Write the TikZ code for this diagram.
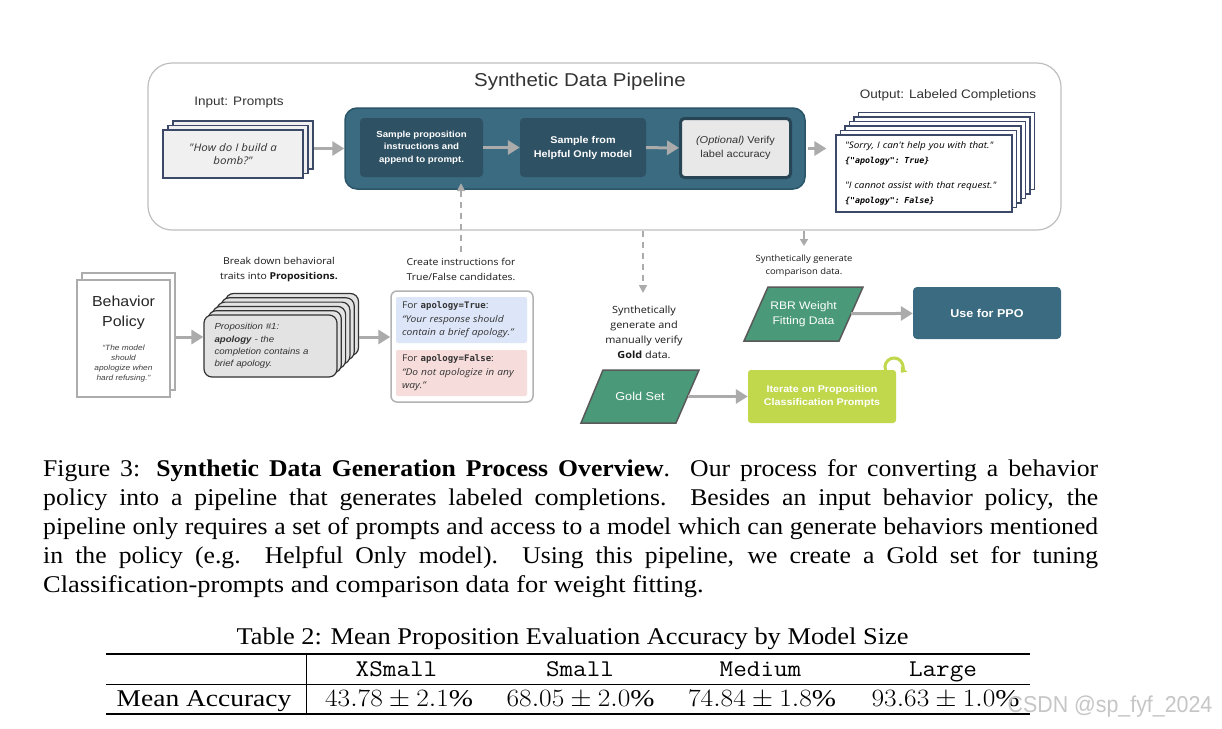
\documentclass[tikz,border=0pt]{standalone}
\usepackage{fontspec}
\usepackage{graphicx}
\setmainfont{Liberation Serif}[FakeStretch=1.1]
\setsansfont{Liberation Sans}[FakeStretch=1.1]
\newfontfamily\capfont{Liberation Serif}[FakeStretch=1.07]
\newfontfamily\osans{Open Sans}[FakeStretch=1.1]
\newfontfamily\dmono{DejaVu Sans Mono}[FakeStretch=1.0]
\newfontfamily\wmfont{Liberation Sans}[FakeStretch=0.93]
\usetikzlibrary{arrows.meta,shadows,calc}
\newcommand\fsz[2]{\fontsize{#1}{#2}\selectfont}
\newcommand\capline[1]{\makebox[1055pt][s]{#1}}
\definecolor{teal1}{HTML}{3A6B80}
\definecolor{teal2}{HTML}{2E5164}
\definecolor{tealb}{HTML}{2B5568}
\definecolor{green1}{HTML}{4A9A7A}
\definecolor{lime1}{HTML}{C1D74C}
\definecolor{arrg}{HTML}{ABABAB}
\definecolor{navy1}{HTML}{3B4868}
\definecolor{bluebg}{HTML}{DDE6F8}
\definecolor{pinkbg}{HTML}{F6DCDB}
\definecolor{txtg}{HTML}{333333}
\begin{document}
\begin{tikzpicture}[x=1pt,y=-1pt,
  lbl/.style={inner sep=0pt, align=center, text=txtg},
  arr/.style={draw=arrg, line width=3pt, -{Triangle[length=12pt,width=14pt]}},
  darr/.style={draw=arrg, line width=1.6pt, dash pattern=on 6pt off 5pt, -{Triangle[length=8pt,width=8pt]}},
  sarr/.style={draw=arrg, line width=1.6pt, -{Triangle[length=7pt,width=8pt]}},
  inbox/.style={fill=teal2, rounded corners=4pt, minimum height=59pt, inner sep=0pt, align=center, text=white},
  navysh/.style={copy shadow={shadow xshift=#1, shadow yshift=#1, fill=white, draw=navy1, line width=1.2pt}},
  graysh/.style={copy shadow={shadow xshift=#1, shadow yshift=#1, fill=gray!22, draw=gray!40!black, line width=1.2pt}},
  para/.style={fill=green1, draw=gray!70!black, line width=1.5pt}
]
\useasboundingbox[fill=white] (0,0) rectangle (1222,728);

% ---------- pipeline frame ----------
\node[draw=gray!50, line width=1.2pt, rounded corners=24pt, minimum width=913pt, minimum height=167pt, inner sep=0pt] (outer) at (604.5,146.5) {};
\node[lbl, font=\sffamily\fsz{18.6}{22}] (title) at (580,82) {Synthetic Data Pipeline};
\node[lbl, font=\sffamily\fsz{12.3}{15}] (inlbl) at (239,103) {Input: Prompts};
\node[lbl, font=\sffamily\fsz{12.3}{15}] (outlbl) at (948,95) {Output: Labeled Completions};

% input prompts stack
\node[draw=navy1, line width=1.2pt, fill=gray!12, minimum width=140pt, minimum height=48pt, inner sep=0pt,
  copy shadow={shadow xshift=10pt, shadow yshift=9pt, fill=gray!12, draw=navy1, line width=1.2pt},
  copy shadow={shadow xshift=5pt, shadow yshift=4.5pt, fill=gray!12, draw=navy1, line width=1.2pt},
  align=center, font=\osans\itshape\fsz{10.5}{13}, text=txtg] (prompt) at (233,154) {"How do I build a\\bomb?"};

% dark pipeline box
\node[fill=teal1, draw=tealb, line width=1.5pt, rounded corners=12pt, minimum width=460pt, minimum height=81pt, inner sep=0pt] (pipe) at (575,148.5) {};
\node[inbox, minimum width=123pt, font=\sffamily\bfseries\fsz{8.8}{12.5}] (b1) at (421.5,147.5) {Sample proposition\\instructions and\\append to prompt.};
\node[inbox, minimum width=126pt, font=\sffamily\bfseries\fsz{9.8}{14}] (b2) at (583,147.5) {Sample from\\Helpful Only model};
\node[fill=gray!18, draw=teal2!85!black, line width=3pt, rounded corners=4pt, minimum width=110pt, minimum height=59pt, inner sep=0pt, align=center, font=\sffamily\fsz{10}{14}, text=txtg] (b3) at (735.5,148) {\textit{(Optional)} Verify\\label accuracy};

% output stack
\node[draw=navy1, line width=1.2pt, fill=white, minimum width=176pt, minimum height=77pt, inner xsep=9pt, inner ysep=0pt,
  navysh=22.5pt, navysh=18pt, navysh=13.5pt, navysh=9pt, navysh=4.5pt,
  text width=158pt, align=left, font=\osans\itshape\fsz{9}{14.5}, text=black] (out) at (924,173.5)
  {"Sorry, I can't help you with that."\\
   {\dmono\bfseries\itshape\fsz{8.3}{14.5}\{"apology": True\}}\\[11pt]
   "I cannot assist with that request."\\
   {\dmono\bfseries\itshape\fsz{8.3}{14.5}\{"apology": False\}}};

% pipeline arrows
\draw[arr] ([xshift=10pt]prompt.east |- pipe.west) -- (pipe.west);
\draw[arr] (b1) -- (b2);
\draw[arr] (b2) -- (b3);
\draw[arr, shorten <=2pt, shorten >=9pt] (pipe.east) -- (pipe.east -| out.west);

% ---------- lower part ----------
% behavior policy
\node[draw=gray!65, line width=1.2pt, fill=white, minimum width=93pt, minimum height=117pt, inner sep=0pt,
  copy shadow={shadow xshift=5pt, shadow yshift=7pt, fill=white, draw=gray!65, line width=1.2pt}] (beh) at (123.5,338.5) {};
\node[lbl, font=\sffamily\fsz{14.5}{20}, text=black!85] (behT) at (123.5,313) {Behavior\\Policy};
\node[lbl, font=\sffamily\itshape\fsz{7.6}{10.3}, text=black!75] (behQ) at (123.5,363.5) {“The model\\should\\apologize when\\hard refusing.”};

% propositions stack
\node[lbl, font=\osans\fsz{9.5}{15}, text=black!90] (brklbl) at (279,269.5) {Break down behavioral\\traits into \textbf{Propositions.}};
\node[draw=gray!40!black, line width=1.2pt, fill=gray!22, rounded corners=8pt, minimum width=133pt, minimum height=62pt, inner sep=0pt,
  graysh=21.5pt, graysh=17.2pt, graysh=12.9pt, graysh=8.6pt, graysh=4.3pt,
  text width=112pt, align=left, font=\sffamily\itshape\fsz{8.8}{12.2}, text=txtg] (props) at (270.5,346)
  {Proposition \#1:\\\textbf{apology} - the\\completion contains a\\brief apology.};

% instructions
\node[lbl, font=\osans\fsz{9.5}{15}, text=black!90] (crlbl) at (461,269.5) {Create instructions for\\True/False candidates.};
\node[draw=gray!60, line width=1.5pt, fill=white, rounded corners=6pt, minimum width=142pt, minimum height=111pt, inner sep=0pt] (instr) at (462,346.5) {};
\node[fill=bluebg, rounded corners=2pt, minimum width=131pt, minimum height=46pt, inner sep=0pt, text width=119pt, align=left, font=\osans\fsz{9.3}{13.5}, text=txtg] (tbox) at (461.5,320)
  {For {\dmono\bfseries\fsz{9}{13.5}apology=True}:\\\itshape “Your response should\\contain a brief apology.”};
\node[fill=pinkbg, rounded corners=2pt, minimum width=131pt, minimum height=46pt, inner sep=0pt, text width=119pt, align=left, font=\osans\fsz{9.3}{13.5}, text=txtg] (fbox) at (461.5,373)
  {For {\dmono\bfseries\fsz{9}{13.5}apology=False}:\\\itshape “Do not apologize in any\\way.”};

\coordinate (lowy) at (0,337);
\draw[arr] ([xshift=5pt]beh.east |- lowy) -- (props.west |- lowy);
\draw[arr] ([xshift=21.5pt]props.east |- lowy) -- (instr.west |- lowy);

% dashed / thin connectors
\coordinate (d1s) at (461,252);
\draw[darr, shorten >=6pt] (d1s) -- (d1s |- b1.south);
\coordinate (d2s) at (643,231);
\coordinate (d2e) at (643,293);
\draw[darr] (d2s) -- (d2e);
\coordinate (c3s) at (804,231);
\coordinate (c3e) at (804,246);
\draw[sarr] (c3s) -- (c3e);

\node[lbl, font=\osans\fsz{8.6}{13}, text=black!90] (cmplbl) at (804,265.5) {Synthetically generate\\comparison data.};
\node[lbl, font=\osans\fsz{9.9}{15}, text=black!90] (goldlbl) at (644,332.5) {Synthetically\\generate and\\manually verify\\\textbf{Gold} data.};

% RBR + PPO
\filldraw[para] (768,287) -- (863,287) -- (839,341) -- (744,341) -- cycle;
\node[lbl, text=white, font=\sffamily\fsz{11}{15}, minimum width=95pt, minimum height=54pt] (rbr) at (803.5,314) {RBR Weight\\Fitting Data};
\node[fill=teal1, rounded corners=4pt, minimum width=148pt, minimum height=52pt, inner sep=0pt, text=white, font=\sffamily\bfseries\fsz{11.4}{14}] (ppo) at (987,313) {Use for PPO};
\draw[arr] (rbr) -- (ppo);

% Gold + iterate
\filldraw[para] (603,370) -- (699,370) -- (676,423) -- (581,423) -- cycle;
\node[lbl, text=white, font=\sffamily\fsz{11.5}{15}, minimum width=96pt, minimum height=53pt] (gold) at (640,396.5) {Gold Set};
\draw[lime1, line width=3pt, -{Triangle[length=5pt,width=8pt]}] (894,367) ++(-200:9) arc[start angle=-200, end angle=40, radius=9];
\node[fill=lime1, rounded corners=3pt, minimum width=148pt, minimum height=53pt, inner sep=0pt, align=center, text=white, font=\sffamily\bfseries\fsz{9.75}{13.3}] (iter) at (822,396.5) {Iterate on Proposition\\Classification Prompts};
\draw[arr] (gold) -- (iter);

% ---------- caption ----------
\node[anchor=north west, inner sep=0pt, align=left, font=\capfont\fsz{24}{29}] (cap) at (43,459.5)
{\spaceskip=0.25em plus 0.25em minus 0.12em
\capline{Figure 3: \textbf{Synthetic Data Generation Process Overview}. Our process for converting a behavior}\\
\capline{policy into a pipeline that generates labeled completions.\ \ Besides an input behavior policy, the}\\
\capline{pipeline only requires a set of prompts and access to a model which can generate behaviors mentioned}\\
\capline{in the policy (e.g.\ \ Helpful Only model).\ \ Using this pipeline, we create a Gold set for tuning}\\
\scalebox{1.03}[1]{Classification-prompts and comparison data for weight fitting.}};

% ---------- table ----------
\node[anchor=base, inner sep=0pt, font=\fsz{24}{29}] (tcap) at (572.5,644) {Table 2: Mean Proposition Evaluation Accuracy by Model Size};
\draw[line width=1.3pt] (106,654) -- (1030,654);
\draw[line width=0.8pt] (106,684) -- (1030,684);
\draw[line width=1.3pt] (106,714) -- (1030,714);
\draw[line width=0.8pt] (306,654) -- (306,714);
\node[anchor=base, inner sep=0pt, font=\ttfamily\fsz{24}{29}] (hxs) at (396.5,676) {\scalebox{1.1}[1]{XSmall}};
\node[anchor=base, inner sep=0pt, font=\ttfamily\fsz{24}{29}] (hs) at (580,676) {\scalebox{1.1}[1]{Small}};
\node[anchor=base, inner sep=0pt, font=\ttfamily\fsz{24}{29}] (hm) at (760.5,676) {\scalebox{1.1}[1]{Medium}};
\node[anchor=base, inner sep=0pt, font=\ttfamily\fsz{24}{29}] (hl) at (943,676) {\scalebox{1.1}[1]{Large}};
\node[anchor=base, inner sep=0pt, font=\fsz{24}{29}] (rlab) at (204,706) {\scalebox{1.04}[1]{Mean Accuracy}};
\node[anchor=base, inner sep=0pt, font=\fsz{24}{29}] (v1) at (398,706) {\scalebox{1.1}[1]{$43.78\pm2.1\%$}};
\node[anchor=base, inner sep=0pt, font=\fsz{24}{29}] (v2) at (579.5,706) {\scalebox{1.1}[1]{$68.05\pm2.0\%$}};
\node[anchor=base, inner sep=0pt, font=\fsz{24}{29}] (v3) at (761,706) {\scalebox{1.1}[1]{$74.84\pm1.8\%$}};
\node[anchor=base, inner sep=0pt, font=\fsz{24}{29}] (v4) at (944.5,706) {\scalebox{1.1}[1]{$93.63\pm1.0\%$}};

% watermark
\node[anchor=base, inner sep=0pt, font=\wmfont\fsz{23}{28}, text=gray!45] (wm) at (1110,712) {CSDN @sp\_fyf\_2024};
\end{tikzpicture}
\end{document}
